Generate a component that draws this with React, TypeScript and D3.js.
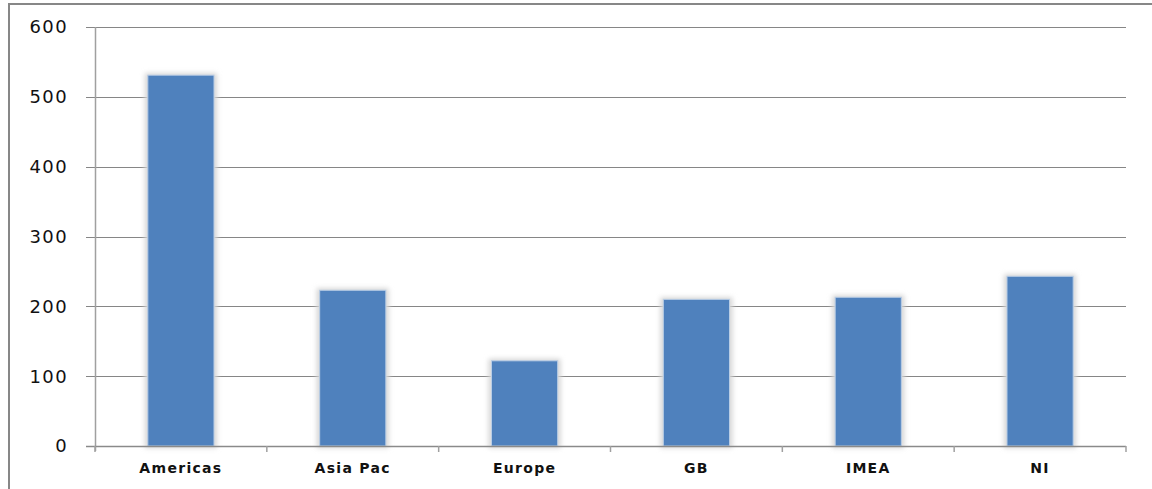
import React, { useEffect, useRef } from 'react';
import * as d3 from 'd3';

const regions = ['Americas', 'Asia Pac', 'Europe', 'GB', 'IMEA', 'NI'];
const counts = [531, 223, 122, 210, 213, 243];
const yTicks = [0, 100, 200, 300, 400, 500, 600];

export default function App() {
  const ref = useRef<SVGSVGElement>(null);

  useEffect(() => {
    if (!ref.current) return;
    const svg = d3.select(ref.current);
    svg.selectAll('*').remove();

    const W = 1152, H = 489;
    const left = 95, right = 1126, top = 27, bottom = 446;

    const x = d3.scaleBand().domain(regions).range([left, right]).paddingInner(0.615).paddingOuter(0.3075);
    const y = d3.scaleLinear().domain([0, 600]).range([bottom, top]);

    const defs = svg.append('defs');
    const f = defs.append('filter').attr('id', 'glow').attr('x', '-20%').attr('y', '-5%').attr('width', '140%').attr('height', '110%');
    f.append('feGaussianBlur').attr('stdDeviation', 2.5);

    // outer frame
    svg.append('line').attr('x1', 8).attr('x2', W).attr('y1', 4).attr('y2', 4)
      .attr('stroke', '#878787').attr('stroke-width', 2);
    svg.append('line').attr('x1', 9).attr('x2', 9).attr('y1', 3).attr('y2', H)
      .attr('stroke', '#878787').attr('stroke-width', 2);

    // gridlines
    svg.append('g').selectAll('line').data(yTicks.filter(d => d > 0)).join('line')
      .attr('x1', 86).attr('x2', right)
      .attr('y1', d => Math.round(y(d)) + 0.5).attr('y2', d => Math.round(y(d)) + 0.5)
      .attr('stroke', '#868686').attr('stroke-width', 1);

    // y labels
    svg.append('g').selectAll('text').data(yTicks).join('text')
      .attr('x', 68).attr('y', d => y(d)).attr('dy', '0.36em')
      .attr('text-anchor', 'end')
      .attr('font-family', 'DejaVu Sans, Verdana, sans-serif')
      .attr('font-size', 18).attr('letter-spacing', 1.4).attr('fill', '#111')
      .text(d => d);

    // bars shadow + bars
    const g = svg.append('g');
    g.selectAll('rect.sh').data(counts).join('rect').attr('class', 'sh')
      .attr('x', (d, i) => x(regions[i])! - 3)
      .attr('width', x.bandwidth() + 6)
      .attr('y', d => y(d) - 2)
      .attr('height', d => bottom - y(d) + 4)
      .attr('fill', '#d6d6d6').attr('filter', 'url(#glow)');
    g.selectAll('rect.bar').data(counts).join('rect').attr('class', 'bar')
      .attr('x', (d, i) => x(regions[i])!)
      .attr('width', x.bandwidth())
      .attr('y', d => y(d))
      .attr('height', d => bottom - y(d))
      .attr('fill', '#4f81bd').attr('stroke', '#b9cde5').attr('stroke-width', 1);

    // y axis line
    svg.append('line').attr('x1', left + 0.5).attr('x2', left + 0.5).attr('y1', top).attr('y2', bottom + 5)
      .attr('stroke', '#a0a0a0').attr('stroke-width', 1.5);
    // x axis line
    svg.append('line').attr('x1', 86).attr('x2', right).attr('y1', bottom + 0.5).attr('y2', bottom + 0.5)
      .attr('stroke', '#8a8a8a').attr('stroke-width', 1.5);
    // x ticks at band boundaries
    const bounds = d3.range(regions.length + 1).map(i => left + i * (right - left) / regions.length);
    svg.append('g').selectAll('line').data(bounds).join('line')
      .attr('x1', d => d).attr('x2', d => d).attr('y1', bottom).attr('y2', bottom + 6)
      .attr('stroke', '#a0a0a0').attr('stroke-width', 1.5);

    // x labels
    svg.append('g').selectAll('text').data(regions).join('text')
      .attr('x', d => x(d)! + x.bandwidth() / 2).attr('y', 473)
      .attr('text-anchor', 'middle')
      .attr('font-family', 'DejaVu Sans, Verdana, sans-serif')
      .attr('font-size', 14).attr('font-weight', 'bold').attr('letter-spacing', 1.3).attr('fill', '#111')
      .text(d => d);
  }, []);

  return (
    <div style={{ position: 'absolute', left: 0, top: 0, width: 1152, height: 489, background: '#fff' }}>
      <svg ref={ref} width={1152} height={489} style={{ display: 'block' }} />
    </div>
  );
}
